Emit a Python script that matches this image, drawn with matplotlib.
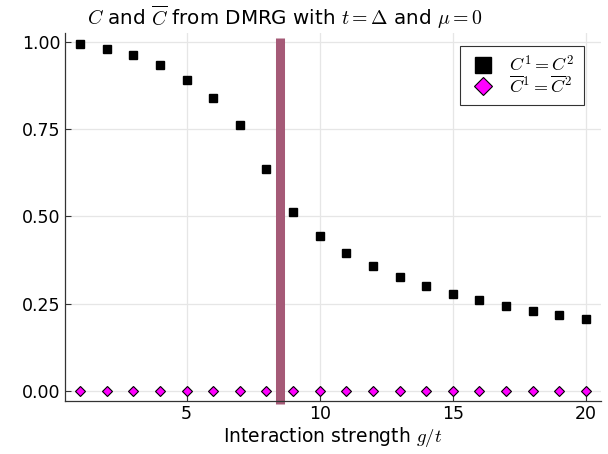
import matplotlib
matplotlib.use("Agg")
import matplotlib.pyplot as plt

plt.rcParams["mathtext.fontset"] = "cm"
plt.rcParams["font.family"] = "DejaVu Sans"

# interaction strength g/t
g = list(range(1, 21))
# C^1 = C^2 from DMRG
c_same = [0.996, 0.982, 0.963, 0.934, 0.893, 0.839, 0.764, 0.635, 0.512, 0.443,
          0.395, 0.357, 0.326, 0.300, 0.277, 0.260, 0.243, 0.228, 0.217, 0.205]
# Cbar^1 = Cbar^2 from DMRG
cbar_same = [0.0] * 20
# transition point
g_c = 8.5

xticks = [5, 10, 15, 20]
yticks = [0.0, 0.25, 0.5, 0.75, 1.0]
ytick_labels = ["0.00", "0.25", "0.50", "0.75", "1.00"]

fig = plt.figure(figsize=(6.08, 4.54), dpi=100)
ax = fig.add_axes([65 / 608, 53 / 454, 536 / 608, 368 / 454])

ax.plot(g, c_same, ls="none", marker="s", ms=6.3, color="black",
        mec="black", label=r"$C^1 = C^2$", zorder=3)
ax.plot(g, cbar_same, ls="none", marker="D", ms=4.6, color="magenta",
        mec="black", mew=0.8, label=r"$\overline{C}^1 = \overline{C}^2$", zorder=3)
ax.plot([g_c, g_c], [-0.04, 1.014], color="#a55a77", lw=6.5,
        solid_capstyle="butt", clip_on=False, zorder=2)

ax.set_xlim(0.43, 20.57)
ax.set_ylim(-0.03, 1.027)
ax.set_xticks(xticks)
ax.set_yticks(yticks)
ax.set_yticklabels(ytick_labels)

ax.grid(True, color="#e6e6e6", lw=0.9)
ax.set_axisbelow(True)
for side in ("top", "right"):
    ax.spines[side].set_visible(False)
for side in ("left", "bottom"):
    ax.spines[side].set_color("#333333")
    ax.spines[side].set_linewidth(0.9)
ax.tick_params(direction="in", length=4, width=0.8, labelsize=12.5,
               color="#333333", pad=3)

fig.text(285 / 608, 1 - 17 / 454,
         r"$C$ and $\overline{C}$ from DMRG with $t = \Delta$ and $\mu = 0$",
         fontsize=14.3, ha="center", va="center")
ax.set_xlabel(r"Interaction strength $g/t$", fontsize=13.5, labelpad=1)

leg = ax.legend(loc="upper right", bbox_to_anchor=(0.968, 0.965),
                borderaxespad=0, fontsize=13,
                markerscale=1.9, frameon=True, fancybox=False,
                edgecolor="black", handlelength=1.5, handletextpad=0.7,
                labelspacing=0.0, borderpad=0.5)
leg.get_frame().set_linewidth(0.8)

fig.savefig("out.png", dpi=100)
